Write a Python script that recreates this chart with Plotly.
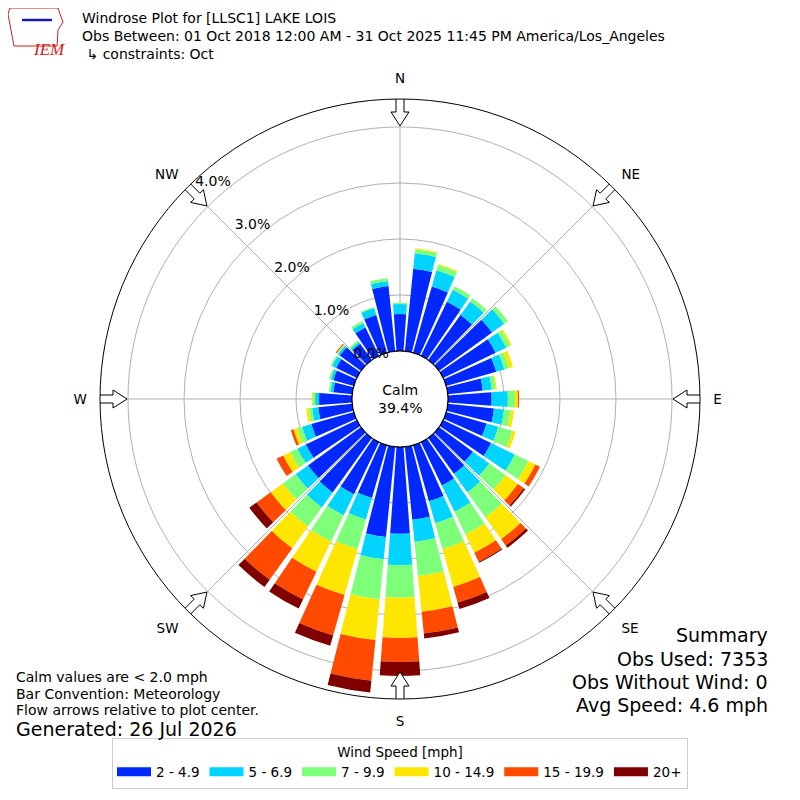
import numpy as np
import plotly.graph_objects as go

# wind directions (deg, meteorological) and percent of obs per speed bin
directions = list(range(0, 360, 10))
speed_bins = ["2 - 4.9", "5 - 6.9", "7 - 9.9", "10 - 14.9", "15 - 19.9", "20+"]
bin_colors = ["#0028ff", "#00d4ff", "#7dff7a", "#ffe600", "#ff4a00", "#800000"]

pct_2_5 = [0.66, 1.48, 1.23, 1.07, 0.99, 1.17, 1.04, 0.93, 0.63, 0.78, 0.83, 0.75,
           0.95, 0.75, 0.79, 0.86, 1.04, 1.31, 1.55, 1.62, 0.98, 1.03, 1.20, 1.17,
           1.01, 0.79, 0.61, 0.59, 0.34, 0.38, 0.41, 0.47, 0.36, 0.56, 0.70, 1.17]
pct_5_7 = [0.18, 0.28, 0.30, 0.24, 0.30, 0.27, 0.21, 0.15, 0.16, 0.29, 0.18, 0.22,
           0.47, 0.36, 0.41, 0.52, 0.41, 0.40, 0.56, 0.40, 0.40, 0.42, 0.33, 0.27,
           0.17, 0.17, 0.11, 0.07, 0.05, 0.05, 0.08, 0.04, 0.04, 0.09, 0.13, 0.09]
pct_7_10 = [0.02, 0.07, 0.10, 0.07, 0.07, 0.08, 0.08, 0.09, 0.07, 0.13, 0.12, 0.26,
            0.27, 0.36, 0.55, 0.45, 0.48, 0.61, 0.58, 0.72, 0.55, 0.52, 0.42, 0.28,
            0.14, 0.09, 0.06, 0.04, 0.03, 0.03, 0.03, 0.02, 0.03, 0.04, 0.02, 0.05]
pct_10_15 = [0.0, 0.02, 0.02, 0.0, 0.0, 0.0, 0.03, 0.07, 0.02, 0.05, 0.06, 0.06,
             0.14, 0.27, 0.48, 0.36, 0.70, 0.64, 0.72, 0.73, 0.85, 0.60, 0.48, 0.27,
             0.14, 0.07, 0.05, 0.02, 0.0, 0.0, 0.0, 0.01, 0.0, 0.0, 0.0, 0.0]
pct_15_20 = [0.0, 0.0, 0.0, 0.0, 0.0, 0.0, 0.0, 0.0, 0.0, 0.02, 0.0, 0.0,
             0.09, 0.13, 0.14, 0.18, 0.29, 0.39, 0.43, 0.73, 0.75, 0.55, 0.69, 0.31,
             0.13, 0.05, 0.0, 0.0, 0.0, 0.0, 0.0, 0.02, 0.0, 0.0, 0.0, 0.0]
pct_20_up = [0.0, 0.0, 0.0, 0.0, 0.0, 0.0, 0.0, 0.0, 0.0, 0.0, 0.0, 0.0,
             0.0, 0.03, 0.05, 0.02, 0.12, 0.09, 0.25, 0.21, 0.19, 0.18, 0.16, 0.16,
             0.0, 0.0, 0.0, 0.0, 0.0, 0.0, 0.0, 0.0, 0.0, 0.0, 0.0, 0.0]

compass_angles = [0, 45, 90, 135, 180, 225, 270, 315]
compass_labels = ["N", "NE", "E", "SE", "S", "SW", "W", "NW"]
r_ticks = [0, 1, 2, 3, 4]
r_tick_labels = ["0.0%", "1.0%", "2.0%", "3.0%", "4.0%"]

calm_pct = 39.4
R_MAX = 4.5
HOLE = 0.16
FONT = "DejaVu Sans"
OFF = 8  # page body margin in the browser


def px(x):
    return (x - OFF) / 800


def py(y):
    return 1 - (y - OFF) / 800


fig = go.Figure()

series = [pct_2_5, pct_5_7, pct_7_10, pct_10_15, pct_15_20, pct_20_up]
for name, color, vals in zip(speed_bins, bin_colors, series):
    fig.add_trace(go.Barpolar(
        r=vals, theta=directions, name=name, width=8.4, legendgroup=name,
        showlegend=False, marker=dict(color=color, line=dict(width=0)),
    ))
    # legend proxy so the key shows wide colour patches like matplotlib
    fig.add_trace(go.Scatterpolar(
        r=[None], theta=[None], mode="lines", name=name, legendgroup=name,
        line=dict(color=color, width=9), hoverinfo="skip",
    ))

# calm circle outline
fig.add_trace(go.Scatterpolar(
    r=[0] * 361, theta=list(range(361)), mode="lines",
    line=dict(color="black", width=1.2), showlegend=False, hoverinfo="skip",
))

# hollow flow arrows round the rim (pixel shape -> polar coords)
px_per_pct = 300 * (1 - HOLE) / R_MAX
arrow_uv = [(304, -4), (287, -4), (287, -9), (273, 0), (287, 9), (287, 4), (304, 4), (304, -4)]
for ang in compass_angles:
    rr = [(np.hypot(u, v) - 300 * HOLE) / px_per_pct for u, v in arrow_uv]
    tt = [ang + np.degrees(np.arctan2(v, u)) for u, v in arrow_uv]
    fig.add_trace(go.Scatterpolar(
        r=rr, theta=tt, mode="lines", fill="toself", fillcolor="white",
        line=dict(color="black", width=1), cliponaxis=False,
        showlegend=False, hoverinfo="skip",
    ))

# radial tick labels, matplotlib style: horizontal, along a ray to the NW
lab_r, lab_t = [], []
for t in r_ticks:
    dx, dy = -29 - 39.5 * t, -45 - 43 * t
    lab_r.append((np.hypot(dx, dy) - 300 * HOLE) / px_per_pct)
    lab_t.append(np.degrees(np.arctan2(dx, -dy)) % 360)
fig.add_trace(go.Scatterpolar(
    r=lab_r, theta=lab_t, mode="text", text=r_tick_labels,
    textfont=dict(size=14, color="black"), showlegend=False, hoverinfo="skip",
))

fig.update_layout(
    width=800, height=800,
    margin=dict(l=0, r=0, t=0, b=0),
    paper_bgcolor="white",
    font=dict(family=FONT, color="black", size=13),
    polar=dict(
        domain=dict(x=[px(100), px(700)], y=[py(699), py(99)]),
        hole=HOLE, bgcolor="white", barmode="stack",
        angularaxis=dict(
            rotation=90, direction="clockwise",
            tickvals=compass_angles, ticktext=compass_labels,
            showline=True, linecolor="black", linewidth=1,
            gridcolor="#b0b0b0", gridwidth=1,
            ticks="outside", ticklen=10, tickcolor="rgba(0,0,0,0)",
            tickfont=dict(size=13.5),
        ),
        radialaxis=dict(
            range=[0, R_MAX], tickvals=r_ticks, showticklabels=False,
            showline=False, ticks="", gridcolor="#b0b0b0", gridwidth=1,
        ),
    ),
    legend=dict(
        orientation="h", x=px(400), xanchor="center", y=py(789), yanchor="bottom",
        bordercolor="#cccccc", borderwidth=1, font=dict(size=13.5), itemwidth=34,
        title=dict(text="Wind Speed [mph]", side="top center", font=dict(size=13.5)),
    ),
)

fig.add_annotation(
    text="Calm<br>%.1f%%" % calm_pct, x=px(400), y=py(399), xref="paper", yref="paper",
    showarrow=False, font=dict(size=14),
)
fig.add_annotation(
    text=("Windrose Plot for [LLSC1] LAKE LOIS<br>"
          "Obs Between: 01 Oct 2018 12:00 AM - 31 Oct 2025 11:45 PM America/Los_Angeles<br>"
          " \u21b3 constraints: Oct"),
    x=px(80), y=py(8), xref="paper", yref="paper", xanchor="left", yanchor="top",
    align="left", showarrow=False, font=dict(size=14),
)

notes = ["Calm values are < 2.0 mph", "Bar Convention: Meteorology",
         "Flow arrows relative to plot center."]
for txt, yc in zip(notes, [677, 693.5, 710]):
    fig.add_annotation(
        text=txt, x=px(14), y=py(yc), xref="paper", yref="paper",
        xanchor="left", yanchor="middle", showarrow=False, font=dict(size=14),
    )
fig.add_annotation(
    text="Generated: 26 Jul 2026", x=px(14), y=py(729), xref="paper", yref="paper",
    xanchor="left", yanchor="middle", showarrow=False, font=dict(size=19),
)

summary = ["Summary", "Obs Used: 7353", "Obs Without Wind: 0", "Avg Speed: 4.6 mph"]
for txt, yc in zip(summary, [635, 659, 682, 705]):
    fig.add_annotation(
        text=txt, x=px(770), y=py(yc), xref="paper", yref="paper",
        xanchor="right", yanchor="middle", showarrow=False, font=dict(size=19),
    )

# IEM logo stand-in
fig.add_shape(
    type="path", xref="paper", yref="paper",
    path="M %f %f L %f %f L %f %f L %f %f L %f %f L %f %f L %f %f L %f %f L %f %f Z" % (
        px(10), py(8), px(58), py(8), px(60), py(14), px(63), py(22), px(58), py(30),
        px(57), py(46), px(14), py(46), px(11), py(30), px(8), py(14)),
    line=dict(color="#cc2222", width=1),
)
fig.add_shape(type="line", xref="paper", yref="paper", x0=px(22), y0=py(20), x1=px(52), y1=py(20),
              line=dict(color="#1a1aa0", width=2.5))
fig.add_annotation(
    text="<i>IEM</i>", x=px(31), y=py(38), xref="paper", yref="paper",
    showarrow=False, font=dict(family="Liberation Serif", size=17, color="#cc2222"),
)

fig.write_html("out.html")
